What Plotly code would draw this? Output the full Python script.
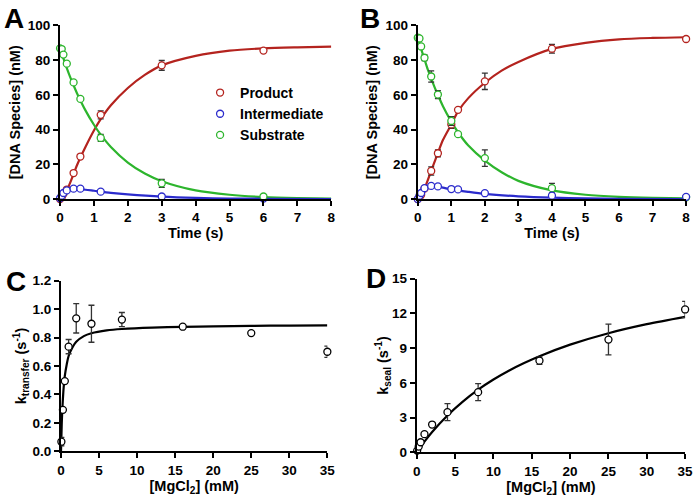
import plotly.graph_objects as go

# ---------------- Panel A data ----------------
A_t = [0, 0.05, 0.1, 0.2, 0.4, 0.6, 1.2, 3, 6]
A_product = [0, 1, 3, 5.5, 15, 24.5, 48.5, 77, 85.5]
A_product_err = [None, None, None, None, None, None, 2.3, 2.8, None]
A_intermediate = [0.5, 2, 3.5, 5, 6, 6, 4.3, 1.5, 0.3]
A_substrate = [86.8, 86.4, 83.2, 78, 67.2, 57.7, 35.2, 9.1, 1.5]
A_substrate_err = [None, None, None, None, None, None, 2, 2.3, None]

A_fit_t = [0, 0.1, 0.2, 0.3, 0.4, 0.5, 0.75, 1, 1.2, 1.5, 2, 2.5, 3, 4, 5, 6, 7, 8]
A_fit_product = [0, 1.5, 5, 9.5, 14.5, 19.5, 30, 39.5, 46, 54, 64, 71.5, 77, 82.5, 85.5, 86.8, 87.4, 87.8]
A_fit_substrate = [87, 81, 75.4, 70.2, 65.5, 61, 51.1, 42.8, 37.1, 30, 21, 14.7, 10.3, 5, 2.5, 1.2, 0.6, 0.3]
A_fit_int_t = [0, 0.05, 0.1, 0.2, 0.3, 0.4, 0.5, 0.75, 1, 1.5, 2, 3, 4, 5, 6, 8]
A_fit_intermediate = [0, 2.5, 4.0, 5.5, 5.9, 6.0, 5.9, 5.4, 4.8, 3.6, 2.7, 1.4, 0.7, 0.35, 0.2, 0.05]

# ---------------- Panel B data ----------------
B_t = [0, 0.05, 0.1, 0.2, 0.4, 0.6, 1, 1.2, 2, 4, 8]
B_product = [0, 1, 2.5, 6, 16.2, 26.4, 43, 51.4, 67.8, 86.6, 92.2]
B_product_err = [None, None, None, None, 2.4, 2, 2.3, None, 4.7, 2.5, None]
B_intermediate = [0, 2, 3.5, 6.3, 7.6, 7.3, 5.8, 5.6, 3.4, 2, 1.3]
B_substrate = [92.9, 92.5, 87.9, 81.4, 70.6, 60.2, 45, 37.4, 23.6, 6.3, 1]
B_substrate_err = [None, None, None, 1.6, 3.2, 2.3, 2.5, None, 4.8, 2.8, None]

B_fit_t = [0, 0.1, 0.2, 0.3, 0.4, 0.5, 0.6, 0.75, 1, 1.2, 1.5, 2, 2.5, 3, 4, 5, 6, 7, 8]
B_fit_product = [0, 1.8, 6, 11, 16.3, 21.5, 26.6, 34, 43, 50.5, 58, 67, 74, 79, 86.5, 90, 92, 92.8, 93.2]
B_fit_substrate = [93, 86.5, 80.5, 74.5, 69.5, 64.5, 60, 53.5, 44.6, 38.5, 31, 22.2, 15.5, 10.5, 5, 2.5, 1.3, 0.7, 0.4]
B_fit_int_t = [0, 0.05, 0.1, 0.2, 0.3, 0.4, 0.5, 0.75, 1, 1.5, 2, 3, 4, 5, 6, 8]
B_fit_intermediate = [0, 3, 5, 7, 7.7, 7.8, 7.5, 6.6, 5.6, 4.2, 3.0, 1.6, 0.8, 0.4, 0.2, 0.05]

# ---------------- Panel C data ----------------
C_mg = [0.05, 0.25, 0.5, 1, 2, 4, 8, 16, 25, 35]
C_k = [0.068, 0.292, 0.494, 0.736, 0.935, 0.897, 0.926, 0.876, 0.831, 0.70]
C_err = [0.03, None, None, 0.05, 0.103, 0.13, 0.05, None, None, 0.04]
C_fit_mg = [0, 0.1, 0.2, 0.35, 0.5, 0.75, 1, 1.5, 2, 3, 4, 6, 8, 12, 16, 20, 25, 30, 35]
C_fit_k = [0, 0.2, 0.32, 0.45, 0.53, 0.61, 0.67, 0.73, 0.77, 0.81, 0.83, 0.85, 0.86, 0.87, 0.875, 0.878, 0.882, 0.884, 0.886]

# ---------------- Panel D data ----------------
D_mg = [0.05, 0.25, 0.5, 1, 2, 4, 8, 16, 25, 35]
D_k = [0.15, 0.5, 0.87, 1.57, 2.4, 3.47, 5.2, 7.92, 9.74, 12.34]
D_err = [None, None, None, None, None, 0.73, 0.73, 0.32, 1.33, 0.7]
D_fit_mg = [0, 1, 2, 4, 6, 8, 10, 12, 14, 16, 20, 25, 30, 35]
D_fit_k = [0, 0.92, 1.75, 3.18, 4.38, 5.41, 6.29, 7.05, 7.71, 8.3, 9.3, 10.29, 11.07, 11.7]

# tick labels
A_xticks = [0, 1, 2, 3, 4, 5, 6, 7, 8]
A_yticks = [0, 20, 40, 60, 80, 100]
C_xticks = [0, 5, 10, 15, 20, 25, 30, 35]
C_yticks = [0.0, 0.2, 0.4, 0.6, 0.8, 1.0, 1.2]
D_yticks = [0, 3, 6, 9, 12, 15]

RED = "#B4231E"
BLUE = "#2B2BCC"
GREEN = "#2DB52D"
ERR = "#333333"
FONT = "Liberation Sans"

fig = go.Figure()


def err_obj(vals):
    arr = [float("nan") if v is None else v for v in vals]
    return dict(type="data", array=arr, visible=True, color=ERR, thickness=1.3, width=3)


def add_fit(x, y, color, xa, ya):
    fig.add_trace(go.Scatter(x=x, y=y, mode="lines", line=dict(color=color, width=2.2, shape="spline", smoothing=0.8),
                             xaxis=xa, yaxis=ya, showlegend=False, hoverinfo="skip", cliponaxis=False))


def add_pts(x, y, color, xa, ya, err=None, name=None, legend=False):
    fig.add_trace(go.Scatter(x=x, y=y, mode="markers", name=name,
                             marker=dict(symbol="circle", size=7, color="rgba(255,255,255,1)",
                                         line=dict(color=color, width=1.3)),
                             error_y=err_obj(err) if err is not None else None,
                             xaxis=xa, yaxis=ya, showlegend=legend, cliponaxis=False))


# Panel A
add_fit(A_fit_t, A_fit_product, RED, "x", "y")
add_fit(A_fit_t, A_fit_substrate, GREEN, "x", "y")
add_fit(A_fit_int_t, A_fit_intermediate, BLUE, "x", "y")
add_pts(A_t, A_product, RED, "x", "y", A_product_err, "Product", True)
add_pts(A_t, A_intermediate, BLUE, "x", "y", None, "Intermediate", True)
add_pts(A_t, A_substrate, GREEN, "x", "y", A_substrate_err, "Substrate", True)

# Panel B
add_fit(B_fit_t, B_fit_product, RED, "x2", "y2")
add_fit(B_fit_t, B_fit_substrate, GREEN, "x2", "y2")
add_fit(B_fit_int_t, B_fit_intermediate, BLUE, "x2", "y2")
add_pts(B_t, B_product, RED, "x2", "y2", B_product_err)
add_pts(B_t, B_substrate, GREEN, "x2", "y2", B_substrate_err)
add_pts(B_t, B_intermediate, BLUE, "x2", "y2")

# Panel C
add_fit(C_fit_mg, C_fit_k, "black", "x3", "y3")
add_pts(C_mg, C_k, "black", "x3", "y3", C_err)

# Panel D
add_fit(D_fit_mg, D_fit_k, "black", "x4", "y4")
add_pts(D_mg, D_k, "black", "x4", "y4", D_err)

tickfont = dict(family=FONT, size=13.5, color="black", weight="bold")
titlefont = dict(family=FONT, size=14.5, color="black", weight="bold")


def ax(domain, rng, ticks, title, anchor, fmt=None, standoff=4):
    d = dict(domain=domain, range=rng, tickvals=ticks, showline=True, linecolor="black", linewidth=2,
             ticks="outside", ticklen=5, tickwidth=2, tickcolor="black", showgrid=False, zeroline=False,
             tickfont=tickfont, anchor=anchor,
             title=dict(text=title, font=titlefont, standoff=standoff))
    if fmt:
        d["tickformat"] = fmt
    return d


W, H = 700, 504
def px(x0, x1):
    return [x0 / W, x1 / W]
def py(ybot, ytop):
    return [(H - ybot) / H, (H - ytop) / H]

fig.update_layout(
    width=W, height=H,
    paper_bgcolor="white", plot_bgcolor="white",
    margin=dict(l=0, r=0, t=0, b=0),
    xaxis=ax(px(57, 333), [0, 8], A_xticks, "Time (s)", "y"),
    yaxis=ax(py(198, 19), [0, 100], A_yticks, "[DNA Species] (nM)", "x"),
    xaxis2=ax(px(421, 694), [0, 8], A_xticks, "Time (s)", "y2"),
    yaxis2=ax(py(198, 19), [0, 100], A_yticks, "[DNA Species] (nM)", "x2"),
    xaxis3=ax(px(58, 329), [0, 35], C_xticks, "[MgCl<sub>2</sub>] (mM)", "y3"),
    yaxis3=ax(py(458, 282), [0, 1.2], C_yticks, "k<sub>transfer</sub> (s<sup>-1</sup>)", "x3", ".1f", 2),
    xaxis4=ax(px(420, 693), [0, 35], C_xticks, "[MgCl<sub>2</sub>] (mM)", "y4"),
    yaxis4=ax(py(459, 280), [0, 15], D_yticks, "k<sub>seal</sub> (s<sup>-1</sup>)", "x4", None, 0),
    legend=dict(x=0.285, y=0.857, xanchor="left", yanchor="top", bgcolor="rgba(0,0,0,0)",
                font=dict(family=FONT, size=14, color="black", weight="bold")),
    showlegend=True,
)

letters = [("A", 10, 12), ("B", 372, 12), ("C", 12, 283), ("D", 378, 280)]
for txt, lx, ly in letters:
    fig.add_annotation(text=txt, x=lx / W, y=(H - ly) / H, xref="paper", yref="paper",
                       xanchor="center", yanchor="middle", showarrow=False,
                       font=dict(family=FONT, size=28, color="black", weight="bold"))

fig.write_html("out.html", config={"displayModeBar": False},
               post_script="document.body.style.margin='0';document.documentElement.style.overflow='hidden';")
